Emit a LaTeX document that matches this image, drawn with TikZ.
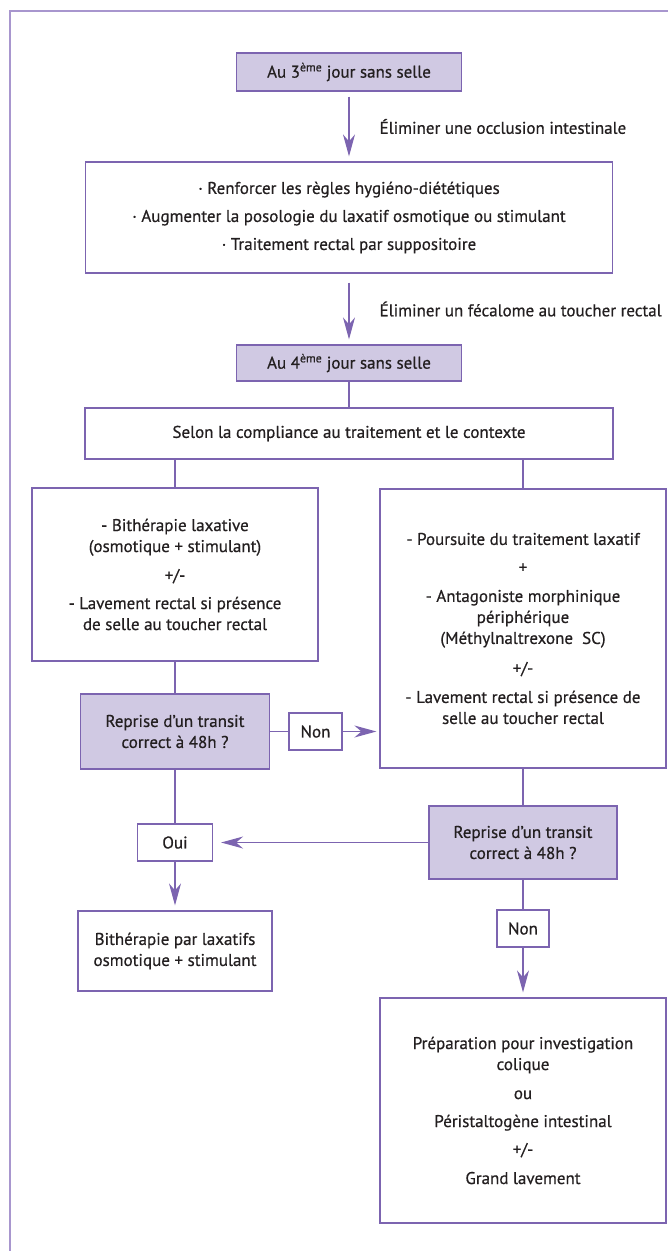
\documentclass[tikz,border=0pt]{standalone}
\usepackage{fontspec}
\setmainfont{PT Sans}[FakeBold=0.6]
\usetikzlibrary{arrows.meta}
\definecolor{lignecol}{RGB}{124,100,176}
\definecolor{fondcol}{RGB}{208,201,227}
\definecolor{cadrecol}{RGB}{168,150,206}
\definecolor{textecol}{RGB}{35,31,32}
\begin{document}
\begin{tikzpicture}[x=1pt, y=-1pt,
  every node/.style={draw=lignecol, line width=1.2pt, align=center,
    inner sep=0pt, text=textecol, font=\fontsize{17}{21}\selectfont},
  fonce/.style={fill=fondcol},
  etiquette/.style={draw=none},
  lien/.style={lignecol, line width=1.2pt},
  fleche/.style={lien, -{Stealth[length=22pt,width=12pt,inset=7pt]}, shorten >=5pt}]
  \useasboundingbox (0,0) rectangle (668,1251);
  \draw[cadrecol, line width=2pt] (9.5,1251) |- (668,11);

  \node[fonce, minimum width=225pt, minimum height=38pt] (jour3) at (349,72) {Au 3\textsuperscript{ème} jour sans selle};
  \node[minimum width=527pt, minimum height=111pt] (regles) at (349,217.5)
    {· Renforcer les règles hygiéno-diététiques\\[7pt]
     · Augmenter la posologie du laxatif osmotique ou stimulant\\[7pt]
     · Traitement rectal par suppositoire};
  \node[fonce, minimum width=225pt, minimum height=36pt] (jour4) at (349,363) {Au 4\textsuperscript{ème} jour sans selle};
  \node[minimum width=528pt, minimum height=51pt] (contexte) at (349,433.5) {Selon la compliance au traitement et le contexte};
  \node[minimum width=286pt, minimum height=173pt] (bitherapie) at (175,574.5)
    {- Bithérapie laxative\\(osmotique + stimulant)\\[8pt]
     +/-\\[7pt]
     - Lavement rectal si présence\\de selle au toucher rectal};
  \node[minimum width=286pt, minimum height=279pt] (poursuite) at (523,628.5)
    {- Poursuite du traitement laxatif\\[7pt]
     +\\[8pt]
     - Antagoniste morphinique\\périphérique\\(Méthylnaltrexone~~SC)\\[9pt]
     +/-\\[8pt]
     - Lavement rectal si présence de\\selle au toucher rectal};
  \node[fonce, minimum width=189pt, minimum height=75pt] (reprise1) at (175,731.5) {Reprise d’un transit\\correct à 48h ?};
  \node[minimum width=53pt, minimum height=37pt] (non1) at (315.5,731.5) {Non};
  \node[fonce, minimum width=188pt, minimum height=73pt] (reprise2) at (523,842.5) {Reprise d’un transit\\correct à 48h ?};
  \node[minimum width=75pt, minimum height=37pt] (oui) at (175,842.5) {Oui};
  \node[minimum width=194pt, minimum height=80pt] (laxatifs) at (175,951) {Bithérapie par laxatifs\\osmotique + stimulant};
  \node[minimum width=52pt, minimum height=37pt] (non2) at (523,928.5) {Non};
  \node[minimum width=286pt, minimum height=225pt] (lavement) at (523,1110.5)
    {Préparation pour investigation\\colique\\[8pt]
     ou\\[7pt]
     Péristaltogène intestinal\\[7pt]
     +/-\\[8pt]
     Grand lavement};

  \draw[fleche, shorten <=5pt] (jour3) -- (regles)
    node[etiquette, midway, right=30pt] {Éliminer une occlusion intestinale};
  \draw[fleche, shorten <=9pt] (regles) -- (jour4)
    node[etiquette, midway, right=30pt] {Éliminer un fécalome au toucher rectal};
  \draw[lien] (jour4) -- (contexte);
  \draw[lien] (contexte.south -| bitherapie.north) -- (bitherapie);
  \draw[lien] (contexte.south -| poursuite.north) -- (poursuite);
  \draw[lien] (bitherapie) -- (reprise1);
  \draw[lien] (reprise1) -- (non1);
  \draw[fleche, shorten >=3pt] (non1) -- (non1 -| poursuite.west);
  \draw[lien] (poursuite) -- (reprise2);
  \draw[fleche, shorten >=8pt] (reprise2) -- (oui);
  \draw[lien] (reprise1) -- (oui);
  \draw[fleche] (oui) -- (laxatifs);
  \draw[lien] (reprise2) -- (non2);
  \draw[fleche] (non2) -- (lavement);
\end{tikzpicture}
\end{document}
